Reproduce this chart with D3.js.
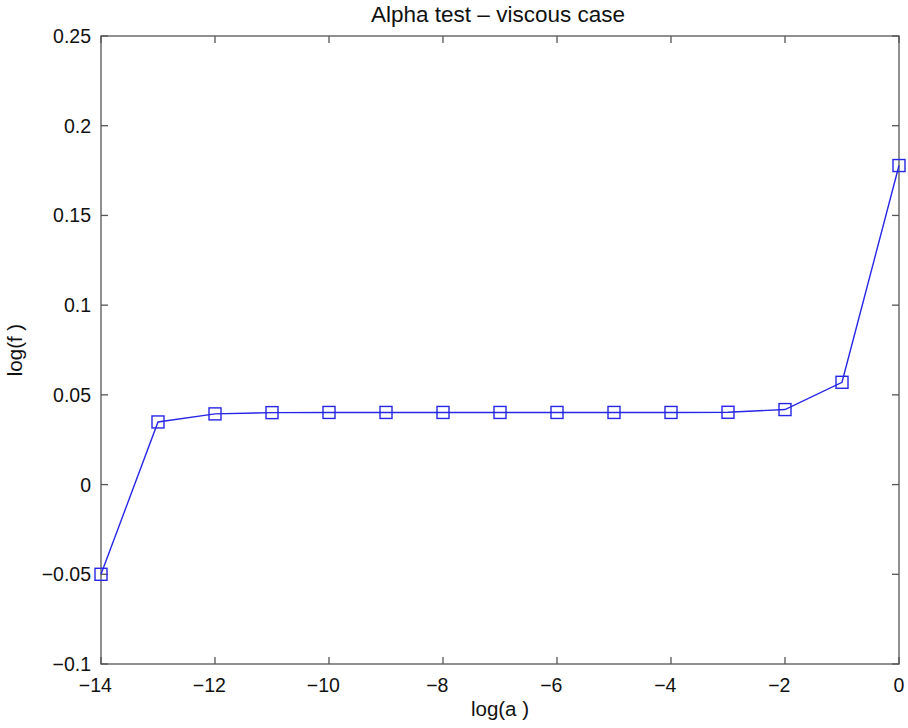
<!DOCTYPE html>
<html>
<head>
<meta charset="utf-8">
<script src="https://cdn.jsdelivr.net/npm/d3@7"></script>
<style>
  body { margin: 0; background: #fff; }
  text { font-family: "Liberation Sans", Arial, sans-serif; fill: #111; }
</style>
</head>
<body>
<script>
var width = 908,
    height = 728;

var margin = {top: 36, right: 9, bottom: 64, left: 101};

// data
var logA = [-14, -13, -12, -11, -10, -9, -8, -7, -6, -5, -4, -3, -2, -1, 0];
var logF = [-0.0500, 0.0349, 0.0394, 0.0401, 0.0402, 0.0402, 0.0402, 0.0402, 0.0402, 0.0402, 0.0402, 0.0403, 0.0418, 0.0570, 0.1778];

var xTicks = [-14, -12, -10, -8, -6, -4, -2, 0];
var yTicks = [-0.1, -0.05, 0, 0.05, 0.1, 0.15, 0.2, 0.25];
var yTickLabels = ["\u22120.1", "\u22120.05", "0", "0.05", "0.1", "0.15", "0.2", "0.25"];

var svg = d3.select("body").append("svg")
    .attr("width", width)
    .attr("height", height);

var x = d3.scaleLinear().domain([-14, 0]).range([margin.left, width - margin.right]);
var y = d3.scaleLinear().domain([-0.1, 0.25]).range([height - margin.bottom, margin.top]);

var axisColor = "#555";
var tickLen = 7;

// box
svg.append("rect")
    .attr("x", x(-14)).attr("y", y(0.25))
    .attr("width", x(0) - x(-14)).attr("height", y(-0.1) - y(0.25))
    .attr("fill", "none").attr("stroke", axisColor).attr("stroke-width", 1.3);

// inward ticks on all four sides
var ticks = svg.append("g").attr("stroke", axisColor).attr("stroke-width", 1.3);
xTicks.forEach(function(t) {
  ticks.append("line").attr("x1", x(t)).attr("x2", x(t)).attr("y1", y(-0.1)).attr("y2", y(-0.1) - tickLen);
  ticks.append("line").attr("x1", x(t)).attr("x2", x(t)).attr("y1", y(0.25)).attr("y2", y(0.25) + tickLen);
});
yTicks.forEach(function(t) {
  ticks.append("line").attr("x1", x(-14)).attr("x2", x(-14) + tickLen).attr("y1", y(t)).attr("y2", y(t));
  ticks.append("line").attr("x1", x(0)).attr("x2", x(0) - tickLen).attr("y1", y(t)).attr("y2", y(t));
});

// tick labels (digits centred on the tick, minus sign hangs left)
svg.append("g").selectAll("text")
    .data(xTicks)
  .enter().append("text")
    .attr("x", function(d) { return x(d); })
    .attr("y", y(-0.1) + 28)
    .attr("dx", function(d) { return d < 0 ? -5.7 : 0; })
    .attr("text-anchor", "middle")
    .style("font-size", "19.5px")
    .text(function(d) { return d < 0 ? "\u2212" + Math.abs(d) : d; });

svg.append("g").selectAll("text")
    .data(yTicks)
  .enter().append("text")
    .attr("x", x(-14) - 10)
    .attr("y", function(d) { return y(d) + 7; })
    .attr("text-anchor", "end")
    .style("font-size", "19.5px")
    .text(function(d, i) { return yTickLabels[i]; });

// title and axis labels
svg.append("text")
    .attr("x", 498).attr("y", 22)
    .attr("text-anchor", "middle")
    .style("font-size", "22.5px")
    .text("Alpha test \u2013 viscous case");

svg.append("text")
    .attr("x", (x(-14) + x(0)) / 2).attr("y", 716)
    .attr("text-anchor", "middle")
    .style("font-size", "20.5px")
    .text("log(a )");

svg.append("text")
    .attr("transform", "translate(22," + (y(0.075)) + ") rotate(-90)")
    .attr("text-anchor", "middle")
    .style("font-size", "20.5px")
    .text("log(f )");

// series
var points = logA.map(function(a, i) { return [a, logF[i]]; });

var line = d3.line()
    .x(function(d) { return x(d[0]); })
    .y(function(d) { return y(d[1]); });

svg.append("path")
    .datum(points)
    .attr("d", line)
    .attr("fill", "none")
    .attr("stroke", "#2626e6")
    .attr("stroke-width", 1.4);

var sq = 12;
svg.append("g").selectAll("rect")
    .data(points)
  .enter().append("rect")
    .attr("x", function(d) { return x(d[0]) - sq / 2; })
    .attr("y", function(d) { return y(d[1]) - sq / 2; })
    .attr("width", sq)
    .attr("height", sq)
    .attr("fill", "none")
    .attr("stroke", "#2626e6")
    .attr("stroke-width", 1.4);
</script>
</body>
</html>
